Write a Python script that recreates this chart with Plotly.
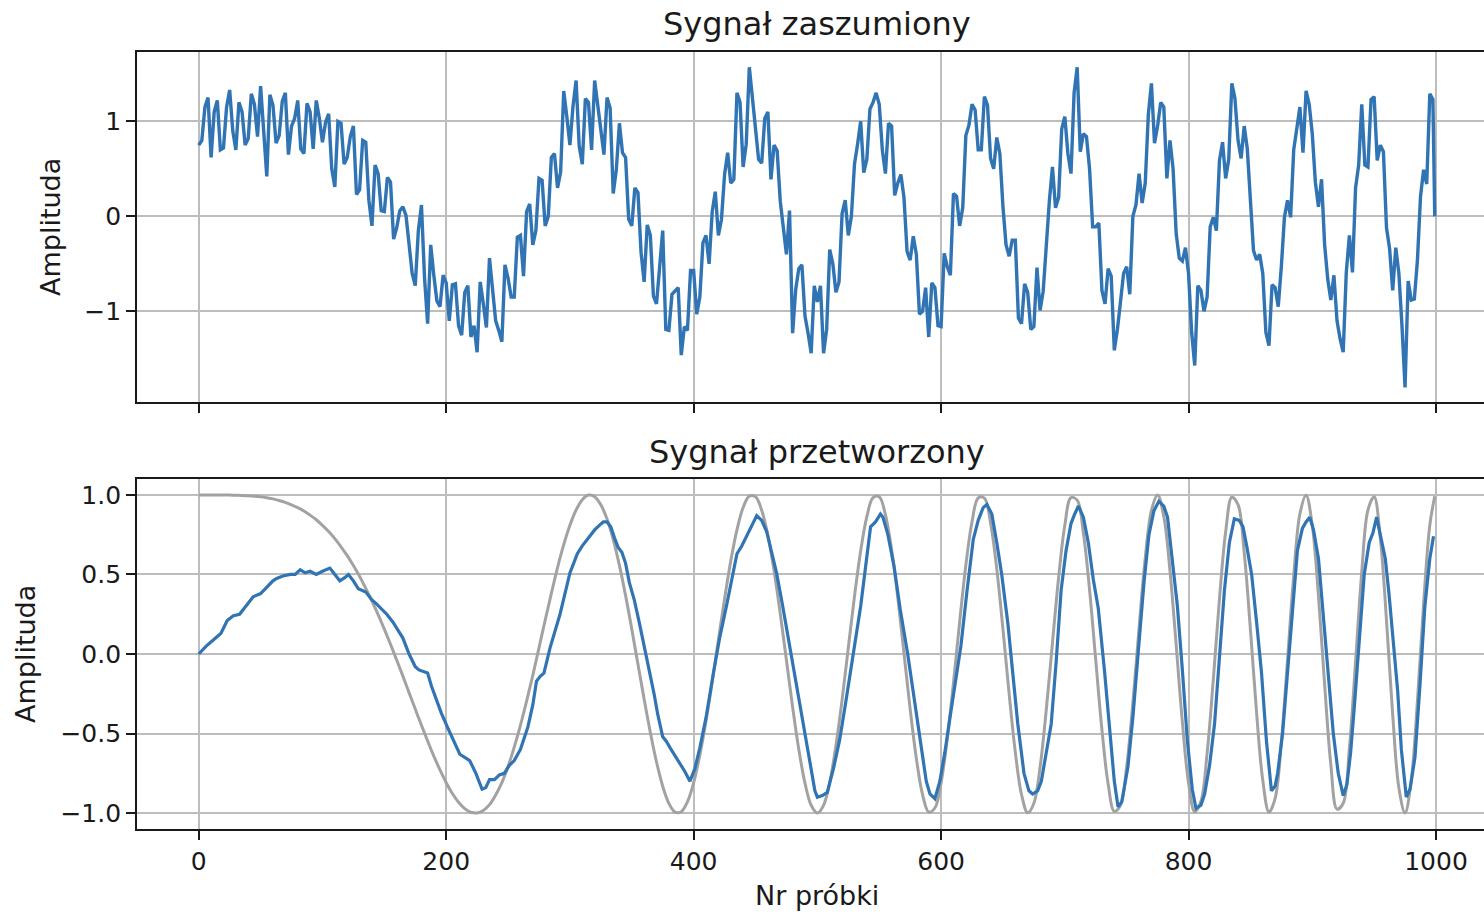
import plotly.graph_objects as go

# ---------------- data ----------------
# sample index grid (every 5th sample) for the clean and noisy signals
n_grid = [0, 5, 10, 15, 20, 25, 30, 35, 40, 45, 50, 55, 60, 65, 70, 75, 80, 85, 90, 95,
          100, 105, 110, 115, 120, 125, 130, 135, 140, 145, 150, 155, 160, 165, 170, 175, 180, 185, 190, 195,
          200, 205, 210, 215, 220, 225, 230, 235, 240, 245, 250, 255, 260, 265, 270, 275, 280, 285, 290, 295,
          300, 305, 310, 315, 320, 325, 330, 335, 340, 345, 350, 355, 360, 365, 370, 375, 380, 385, 390, 395,
          400, 405, 410, 415, 420, 425, 430, 435, 440, 445, 450, 455, 460, 465, 470, 475, 480, 485, 490, 495,
          500, 505, 510, 515, 520, 525, 530, 535, 540, 545, 550, 555, 560, 565, 570, 575, 580, 585, 590, 595,
          600, 605, 610, 615, 620, 625, 630, 635, 640, 645, 650, 655, 660, 665, 670, 675, 680, 685, 690, 695,
          700, 705, 710, 715, 720, 725, 730, 735, 740, 745, 750, 755, 760, 765, 770, 775, 780, 785, 790, 795,
          800, 805, 810, 815, 820, 825, 830, 835, 840, 845, 850, 855, 860, 865, 870, 875, 880, 885, 890, 895,
          900, 905, 910, 915, 920, 925, 930, 935, 940, 945, 950, 955, 960, 965, 970, 975, 980, 985, 990, 995,
          999]

# clean reference signal (grey curve, bottom panel)
clean = [1.000, 1.000, 1.000, 1.000, 1.000, 0.999, 0.998, 0.997, 0.995, 0.992, 0.988, 0.982, 0.975, 0.965, 0.953, 0.938, 0.920, 0.899, 0.873, 0.844,
         0.809, 0.770, 0.725, 0.674, 0.618, 0.556, 0.488, 0.413, 0.333, 0.247, 0.156, 0.061, -0.038, -0.139, -0.243, -0.346, -0.448, -0.547, -0.642, -0.729,
         -0.809, -0.877, -0.932, -0.972, -0.995, -0.999, -0.983, -0.947, -0.886, -0.808, -0.707, -0.585, -0.448, -0.296, -0.134, 0.039, 0.212, 0.381, 0.543, 0.687,
         0.809, 0.905, 0.970, 0.999, 0.989, 0.938, 0.848, 0.719, 0.557, 0.367, 0.156, -0.064, -0.285, -0.493, -0.679, -0.831, -0.939, -0.994, -0.991, -0.929,
         -0.809, -0.636, -0.421, -0.174, 0.088, 0.346, 0.585, 0.780, 0.921, 0.992, 0.988, 0.904, 0.746, 0.524, 0.255, -0.039, -0.333, -0.600, -0.812, -0.951,
         -1.000, -0.951, -0.806, -0.576, -0.287, 0.039, 0.362, 0.648, 0.863, 0.983, 0.988, 0.876, 0.657, 0.355, 0.006, -0.346, -0.656, -0.883, -0.993, -0.968,
         -0.809, -0.531, -0.181, 0.201, 0.558, 0.831, 0.981, 0.980, 0.824, 0.535, 0.156, -0.250, -0.618, -0.883, -0.998, -0.938, -0.712, -0.352, 0.069, 0.481,
         0.809, 0.983, 0.967, 0.761, 0.404, -0.039, -0.476, -0.816, -0.989, -0.951, -0.707, -0.309, 0.162, 0.602, 0.902, 0.999, 0.864, 0.524, 0.057, -0.427,
         -0.809, -0.992, -0.926, -0.625, -0.163, 0.346, 0.767, 0.985, 0.939, 0.637, 0.156, -0.370, -0.794, -0.994, -0.907, -0.556, -0.038, 0.492, 0.880, 0.998,
         0.809, 0.367, -0.193, -0.695, -0.975, -0.938, -0.592, -0.049, 0.514, 0.905, 0.988, 0.728, 0.212, -0.381, -0.841, -0.999, -0.794, -0.296, 0.316, 0.810,
         0.992]

# noisy signal (top panel): samples on the 5-step grid ...
noisy = [0.75, 1.15, 0.62, 1.22, 0.72, 1.33, 0.70, 1.10, 0.82, 1.18, 1.37, 0.42, 1.17, 0.85, 1.30, 0.95, 1.22, 0.66, 1.10, 1.22,
         0.78, 1.08, 0.31, 0.98, 0.62, 0.95, 0.28, 0.78, -0.10, 0.45, 0.05, 0.36, -0.12, 0.10, -0.28, -0.73, 0.12, -1.13, -0.62, -0.95,
         -0.70, -0.72, -1.15, -0.80, -1.27, -1.43, -0.92, -0.44, -1.10, -1.32, -0.65, -0.85, -0.20, 0.05, -0.30, 0.40, -0.10, 0.62, 0.30, 1.32,
         0.75, 1.43, 0.55, 1.20, 1.43, 0.90, 1.25, 0.24, 0.98, 0.62, -0.10, 0.25, -0.69, -0.20, -0.92, -0.15, -1.20, -0.78, -1.46, -1.20,
         -0.57, -0.85, -0.20, 0.05, -0.20, 0.44, 0.35, 1.30, 0.52, 1.57, 0.85, 0.56, 1.10, 0.75, 0.16, -0.40, -1.23, -0.55, -1.05, -1.44,
         -0.90, -1.44, -0.35, -0.80, 0.03, -0.20, 0.55, 1.00, 0.60, 1.20, 1.18, 0.45, 0.95, 0.35, 0.20, -0.46, -0.40, -1.00, -1.27, -0.75,
         -1.16, -0.53, 0.24, -0.10, 0.85, 1.18, 0.70, 1.26, 0.61, 0.83, 0.10, -0.42, -0.25, -1.13, -0.80, -1.16, -0.99, -0.25, 0.52, 0.20,
         1.05, 0.45, 1.57, 0.87, 0.50, -0.11, -0.78, -0.55, -1.41, -0.90, -0.53, 0.00, 0.45, 0.35, 1.40, 0.95, 1.15, 0.80, -0.18, -0.47,
         -0.60, -1.57, -0.78, -0.85, -0.01, 0.59, 0.40, 1.40, 0.80, 0.95, 0.17, -0.46, -0.60, -1.36, -0.75, -0.53, 0.17, 0.70, 1.15, 1.32,
         0.87, 0.10, -0.30, -0.88, -1.10, -1.43, -0.20, 0.30, 1.18, 0.52, 1.26, 0.75, -0.12, -0.78, -0.60, -1.80, -0.88, -0.46, 0.49, 1.29,
         0.00]

# ... and samples half-way between them
n_mid = [2.5, 7.5, 12.5, 17.5, 22.5, 27.5, 32.5, 37.5, 42.5, 47.5, 52.5, 57.5, 62.5, 67.5, 72.5, 77.5, 82.5, 87.5, 92.5, 97.5,
         102.5, 107.5, 112.5, 117.5, 122.5, 127.5, 132.5, 137.5, 142.5, 147.5, 152.5, 157.5, 162.5, 167.5, 172.5, 177.5, 182.5, 187.5, 192.5, 197.5,
         202.5, 207.5, 212.5, 217.5, 222.5, 227.5, 232.5, 237.5, 242.5, 247.5, 252.5, 257.5, 262.5, 267.5, 272.5, 277.5, 282.5, 287.5, 292.5, 297.5,
         302.5, 307.5, 312.5, 317.5, 322.5, 327.5, 332.5, 337.5, 342.5, 347.5, 352.5, 357.5, 362.5, 367.5, 372.5, 377.5, 382.5, 387.5, 392.5, 397.5,
         402.5, 407.5, 412.5, 417.5, 422.5, 427.5, 432.5, 437.5, 442.5, 447.5, 452.5, 457.5, 462.5, 467.5, 472.5, 477.5, 482.5, 487.5, 492.5, 497.5,
         502.5, 507.5, 512.5, 517.5, 522.5, 527.5, 532.5, 537.5, 542.5, 547.5, 552.5, 557.5, 562.5, 567.5, 572.5, 577.5, 582.5, 587.5, 592.5, 597.5,
         602.5, 607.5, 612.5, 617.5, 622.5, 627.5, 632.5, 637.5, 642.5, 647.5, 652.5, 657.5, 662.5, 667.5, 672.5, 677.5, 682.5, 687.5, 692.5, 697.5,
         702.5, 707.5, 712.5, 717.5, 722.5, 727.5, 732.5, 737.5, 742.5, 747.5, 752.5, 757.5, 762.5, 767.5, 772.5, 777.5, 782.5, 787.5, 792.5, 797.5,
         802.5, 807.5, 812.5, 817.5, 822.5, 827.5, 832.5, 837.5, 842.5, 847.5, 852.5, 857.5, 862.5, 867.5, 872.5, 877.5, 882.5, 887.5, 892.5, 897.5,
         902.5, 907.5, 912.5, 917.5, 922.5, 927.5, 932.5, 937.5, 942.5, 947.5, 952.5, 957.5, 962.5, 967.5, 972.5, 977.5, 982.5, 987.5, 992.5, 997.5]
noisy_mid = [0.80, 1.25, 1.10, 0.70, 1.15, 0.90, 1.20, 0.75, 1.29, 0.84, 0.94, 1.28, 0.77, 1.21, 0.65, 1.03, 0.71, 1.19, 0.71, 1.03,
             0.99, 0.50, 1.00, 0.55, 0.84, 0.23, 0.80, 0.17, 0.54, 0.06, 0.41, -0.24, 0.06, 0.01, -0.60, -0.15, -0.65, -0.30, -0.89, -0.62,
             -1.10, -0.71, -1.25, -0.73, -1.15, -0.69, -1.17, -0.82, -1.20, -0.51, -0.85, -0.22, -0.63, 0.13, -0.15, 0.38, 0.00, 0.66, 0.47, 1.05,
             1.16, 0.74, 1.24, 0.70, 1.17, 0.65, 1.14, 0.49, 0.67, -0.03, 0.30, -0.38, -0.09, -0.84, -0.56, -1.19, -0.82, -0.75, -1.16, -0.57,
             -1.03, -0.28, -0.50, 0.26, -0.03, 0.67, 0.39, 1.20, 0.76, 1.25, 0.60, 1.03, 0.39, 0.69, -0.09, 0.06, -0.77, -0.51, -1.23, -0.73,
             -0.73, -1.19, -0.50, -0.69, 0.17, 0.00, 0.76, 0.46, 1.13, 1.30, 0.70, 0.98, 0.22, 0.44, -0.37, -0.21, -1.03, -0.75, -0.70, -1.15,
             -0.39, -0.62, 0.21, 0.09, 0.96, 1.12, 0.70, 1.17, 0.50, 0.66, -0.30, -0.25, -1.07, -0.71, -1.19, -0.54, -0.79, 0.16, 0.09, 0.92,
             0.66, 1.30, 0.68, 0.84, -0.11, -0.07, -0.92, -0.63, -1.19, -0.60, -0.82, 0.12, 0.14, 1.07, 0.77, 1.20, 0.40, 0.50, -0.44, -0.33,
             -1.22, -0.73, -1.00, -0.11, -0.15, 0.78, 0.60, 1.24, 0.61, 0.71, -0.36, -0.40, -1.22, -0.72, -0.95, -0.01, -0.01, 0.90, 0.67, 1.18,
             0.36, 0.39, -0.66, -0.62, -1.29, -0.59, -0.59, 0.54, 0.54, 1.23, 0.59, 0.68, -0.34, -0.33, -1.15, -0.68, -0.87, 0.21, 0.34, 1.23]

# processed (filtered) signal, bottom panel
proc_n = [0, 6, 12, 18, 23, 28, 33, 38, 44, 50, 55, 60, 63, 68, 74, 78, 82, 86, 90, 95,
          100, 106, 110, 114, 118, 121, 125, 129, 135, 140, 143, 148, 152, 157, 161, 165, 170, 175, 178, 182,
          185, 188, 192, 196, 201, 206, 211, 215, 219, 224, 229, 232, 235, 239, 243, 247, 251, 255, 260, 263,
          266, 270, 273, 276, 279, 284, 288, 292, 296, 300, 303, 306, 310, 314, 317, 320, 324, 327, 330, 333,
          336, 339, 342, 345, 348, 352, 356, 360, 364, 368, 371, 375, 378, 381, 385, 389, 393, 397, 401, 405,
          410, 416, 421, 427, 431, 435, 439, 443, 447, 451, 455, 459, 463, 467, 472, 478, 484, 489, 494, 498,
          500, 504, 508, 513, 518, 523, 527, 531, 535, 539, 543, 547, 551, 553, 557, 562, 567, 573, 578, 584,
          588, 591, 595, 599, 603, 607, 612, 616, 621, 626, 630, 634, 637, 641, 645, 649, 654, 658, 662, 667,
          671, 674, 678, 681, 685, 689, 693, 697, 701, 705, 708, 711, 715, 719, 723, 727, 732, 737, 740, 743,
          746, 751, 755, 759, 764, 768, 772, 776, 780, 783, 787, 791, 795, 799, 803, 806, 810, 813, 817, 821,
          825, 829, 833, 837, 841, 844, 847, 851, 855, 859, 863, 867, 870, 872, 876, 880, 884, 888, 892, 895,
          898, 901, 905, 909, 913, 917, 921, 925, 928, 931, 934, 938, 942, 946, 949, 952, 955, 959, 962, 966,
          969, 972, 976, 979, 983, 987, 991, 995, 998]
proc_v = [0.00, 0.05, 0.09, 0.13, 0.21, 0.24, 0.25, 0.30, 0.36, 0.38, 0.42, 0.46, 0.475, 0.49, 0.50, 0.50, 0.53, 0.51, 0.52, 0.50,
          0.52, 0.54, 0.50, 0.46, 0.48, 0.50, 0.46, 0.41, 0.39, 0.34, 0.32, 0.28, 0.25, 0.20, 0.15, 0.10, 0.00, -0.08, -0.10, -0.11,
          -0.12, -0.20, -0.29, -0.37, -0.46, -0.55, -0.63, -0.65, -0.67, -0.75, -0.85, -0.84, -0.79, -0.79, -0.76, -0.75, -0.70, -0.67, -0.60, -0.53,
          -0.46, -0.32, -0.17, -0.14, -0.12, 0.04, 0.15, 0.25, 0.38, 0.51, 0.57, 0.63, 0.68, 0.72, 0.75, 0.78, 0.81, 0.83, 0.83, 0.80,
          0.73, 0.67, 0.64, 0.57, 0.45, 0.34, 0.20, 0.04, -0.10, -0.25, -0.38, -0.52, -0.55, -0.59, -0.64, -0.69, -0.74, -0.80, -0.72, -0.59,
          -0.40, -0.12, 0.10, 0.32, 0.48, 0.63, 0.68, 0.74, 0.81, 0.87, 0.84, 0.77, 0.64, 0.51, 0.30, 0.04, -0.22, -0.46, -0.68, -0.86,
          -0.90, -0.89, -0.87, -0.72, -0.54, -0.30, -0.10, 0.12, 0.30, 0.55, 0.80, 0.83, 0.88, 0.86, 0.75, 0.55, 0.28, 0.00, -0.27, -0.56,
          -0.80, -0.88, -0.91, -0.80, -0.62, -0.41, -0.15, 0.05, 0.40, 0.72, 0.84, 0.92, 0.94, 0.88, 0.70, 0.50, 0.19, -0.12, -0.44, -0.75,
          -0.86, -0.88, -0.86, -0.80, -0.62, -0.44, -0.05, 0.40, 0.65, 0.82, 0.88, 0.93, 0.86, 0.70, 0.47, 0.29, -0.10, -0.54, -0.80, -0.96,
          -0.93, -0.71, -0.40, -0.02, 0.45, 0.75, 0.90, 0.96, 0.93, 0.86, 0.60, 0.30, -0.10, -0.54, -0.85, -0.97, -0.95, -0.88, -0.70, -0.44,
          -0.02, 0.40, 0.70, 0.85, 0.84, 0.80, 0.68, 0.50, 0.20, -0.12, -0.55, -0.86, -0.83, -0.75, -0.50, -0.12, 0.30, 0.65, 0.79, 0.83,
          0.86, 0.78, 0.60, 0.25, -0.12, -0.50, -0.75, -0.89, -0.82, -0.62, -0.33, 0.10, 0.50, 0.70, 0.76, 0.86, 0.75, 0.60, 0.38, 0.05,
          -0.23, -0.60, -0.90, -0.85, -0.65, -0.20, 0.30, 0.60, 0.74]

x_ticks = [0, 200, 400, 600, 800, 1000]
x_tick_text = ["0", "200", "400", "600", "800", "1000"]
top_y_ticks = [-1, 0, 1]
top_y_text = ["\u22121", "0", "1"]
bot_y_ticks = [-1.0, -0.5, 0.0, 0.5, 1.0]
bot_y_text = ["\u22121.0", "\u22120.5", "0.0", "0.5", "1.0"]

title_top = "Sygnał zaszumiony"
title_bottom = "Sygnał przetworzony"
y_label = "Amplituda"
x_label = "Nr próbki"

# merge the two noisy sample sets into one ordered series
noisy_pts = sorted(zip(n_grid + n_mid, noisy + noisy_mid))
noisy_x = [p[0] for p in noisy_pts]
noisy_y = [p[1] for p in noisy_pts]

# ---------------- styling ----------------
BLUE = "#3174b3"
GREY = "#a2a2a2"
GRID = "#bdbdbd"
AXC = "#1a1a1a"
FONT = "DejaVu Sans"
TICK_FS = 25
LABEL_FS = 27
TITLE_FS = 32

W, H = 1484, 912
ML, MT, MB = 137, 52, 83
PLOT_H = H - MT - MB
def py(p):
    return (H - MB - p) / PLOT_H

fig = go.Figure()
fig.add_trace(go.Scatter(x=noisy_x, y=noisy_y, mode="lines", line=dict(color=BLUE, width=3.4),
                         xaxis="x", yaxis="y", showlegend=False, hoverinfo="skip"))
fig.add_trace(go.Scatter(x=n_grid, y=clean, mode="lines", line=dict(color=GREY, width=3, shape="spline", smoothing=1.0),
                         xaxis="x2", yaxis="y2", showlegend=False, hoverinfo="skip"))
fig.add_trace(go.Scatter(x=proc_n, y=proc_v, mode="lines", line=dict(color=BLUE, width=3.2),
                         xaxis="x2", yaxis="y2", showlegend=False, hoverinfo="skip"))

xr = [-49.9, 1038.8]
common_x = dict(range=xr, tickvals=x_ticks, ticktext=x_tick_text, showgrid=True, gridcolor=GRID, gridwidth=1.6,
                zeroline=False, showline=True, linecolor=AXC, linewidth=1.8, mirror=True,
                ticks="outside", ticklen=9, tickwidth=1.6, tickcolor=AXC,
                tickfont=dict(family=FONT, size=TICK_FS, color=AXC))
common_y = dict(showgrid=True, gridcolor=GRID, gridwidth=1.6, zeroline=False, showline=True, linecolor=AXC,
                linewidth=1.8, mirror=False, ticks="outside", ticklen=9, tickwidth=1.6, tickcolor=AXC,
                tickfont=dict(family=FONT, size=TICK_FS, color=AXC))

fig.update_layout(
    width=W, height=H,
    margin=dict(l=ML, r=0, t=MT, b=MB, pad=0),
    paper_bgcolor="white", plot_bgcolor="white",
    xaxis=dict(domain=[0, 1], anchor="y", showticklabels=False, **common_x),
    yaxis=dict(domain=[py(402), 1], anchor="x", range=[-1.954, 1.73], tickvals=top_y_ticks, ticktext=top_y_text, **common_y),
    xaxis2=dict(domain=[0, 1], anchor="y2", showticklabels=True, **common_x),
    yaxis2=dict(domain=[0, py(479)], anchor="x2", range=[-1.1, 1.1], tickvals=bot_y_ticks, ticktext=bot_y_text, **common_y),
    font=dict(family=FONT, color=AXC),
    annotations=[
        dict(text=title_top, x=499.5, xref="x", y=1, yref="paper", yanchor="middle", yshift=28,
             showarrow=False, font=dict(family=FONT, size=TITLE_FS, color=AXC)),
        dict(text=title_bottom, x=499.5, xref="x2", y=py(479), yref="paper", yanchor="middle", yshift=27,
             showarrow=False, font=dict(family=FONT, size=TITLE_FS, color=AXC)),
        dict(text=y_label, x=0, xref="paper", xshift=51 - ML, y=(py(52) + py(402)) / 2, yref="paper",
             textangle=-90, showarrow=False, xanchor="center", yanchor="middle",
             font=dict(family=FONT, size=LABEL_FS, color=AXC)),
        dict(text=y_label, x=0, xref="paper", xshift=25 - ML, y=(py(479) + py(829)) / 2, yref="paper",
             textangle=-90, showarrow=False, xanchor="center", yanchor="middle",
             font=dict(family=FONT, size=LABEL_FS, color=AXC)),
        dict(text=x_label, x=499.5, xref="x2", y=0, yref="paper", yshift=-(895 - 829), yanchor="middle",
             showarrow=False, font=dict(family=FONT, size=LABEL_FS, color=AXC)),
    ],
)

fig.write_html("out.html", config={"displayModeBar": False},
               post_script="document.body.style.margin='0px';")
